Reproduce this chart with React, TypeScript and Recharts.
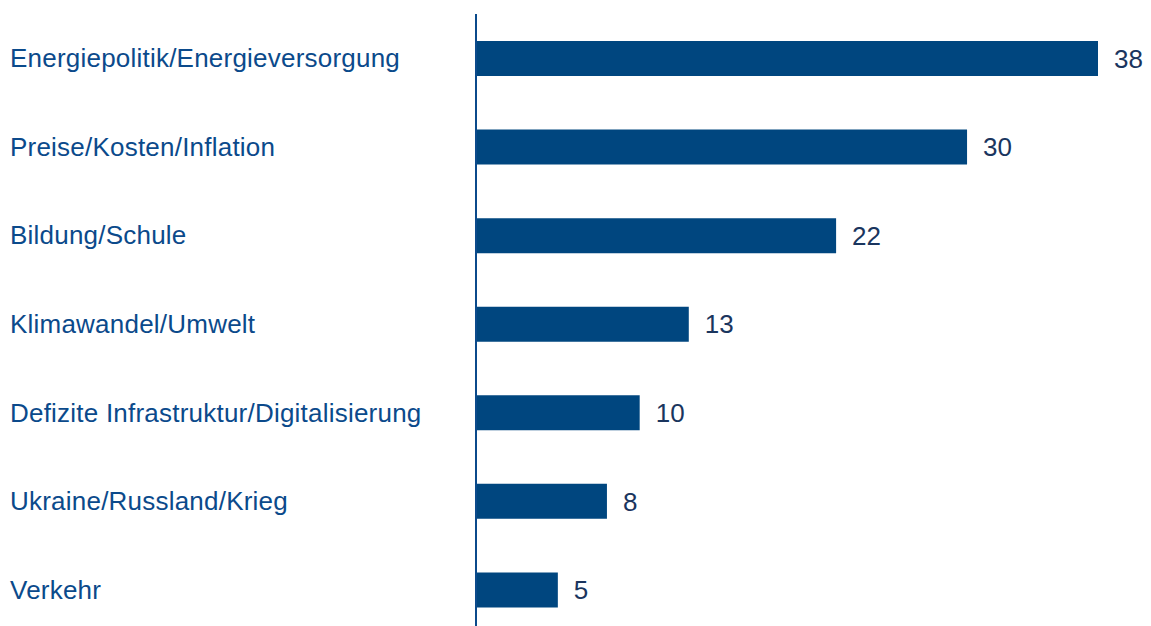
import { BarChart, Bar, XAxis, YAxis, LabelList } from "recharts";

const categories = [
  "Energiepolitik/Energieversorgung",
  "Preise/Kosten/Inflation",
  "Bildung/Schule",
  "Klimawandel/Umwelt",
  "Defizite Infrastruktur/Digitalisierung",
  "Ukraine/Russland/Krieg",
  "Verkehr",
];
const values = [38, 30, 22, 13, 10, 8, 5];

const data = categories.map((name, i) => ({ name, value: values[i] }));

const FONT = "'Liberation Sans', Arial, sans-serif";

const LeftTick = (props: any) => {
  const { y, payload } = props;
  return (
    <text
      x={10}
      y={y}
      dy={9}
      textAnchor="start"
      fontSize={26}
      fontFamily={FONT}
      letterSpacing={0.22}
      fill="#0b4a8b"
    >
      {payload.value}
    </text>
  );
};

const App = () => {
  return (
    <div style={{ position: "absolute", left: 0, top: 0, background: "#fff" }}>
      <BarChart
        width={1151}
        height={648}
        data={data}
        layout="vertical"
        margin={{ top: 14, right: 53, left: 0, bottom: 14 }}
        barCategoryGap={0}
      >
        <XAxis type="number" domain={[0, 38]} hide />
        <YAxis
          type="category"
          dataKey="name"
          width={476}
          axisLine={{ stroke: "#0b4a8b", strokeWidth: 2 }}
          tickLine={false}
          tick={<LeftTick />}
          interval={0}
        />
        <Bar
          dataKey="value"
          fill="#00467f"
          barSize={35}
          isAnimationActive={false}
        >
          <LabelList
            dataKey="value"
            position="right"
            offset={16}
            fontSize={26}
            fontFamily={FONT}
            fill="#1a355e"
          />
        </Bar>
      </BarChart>
    </div>
  );
};

export default App;
